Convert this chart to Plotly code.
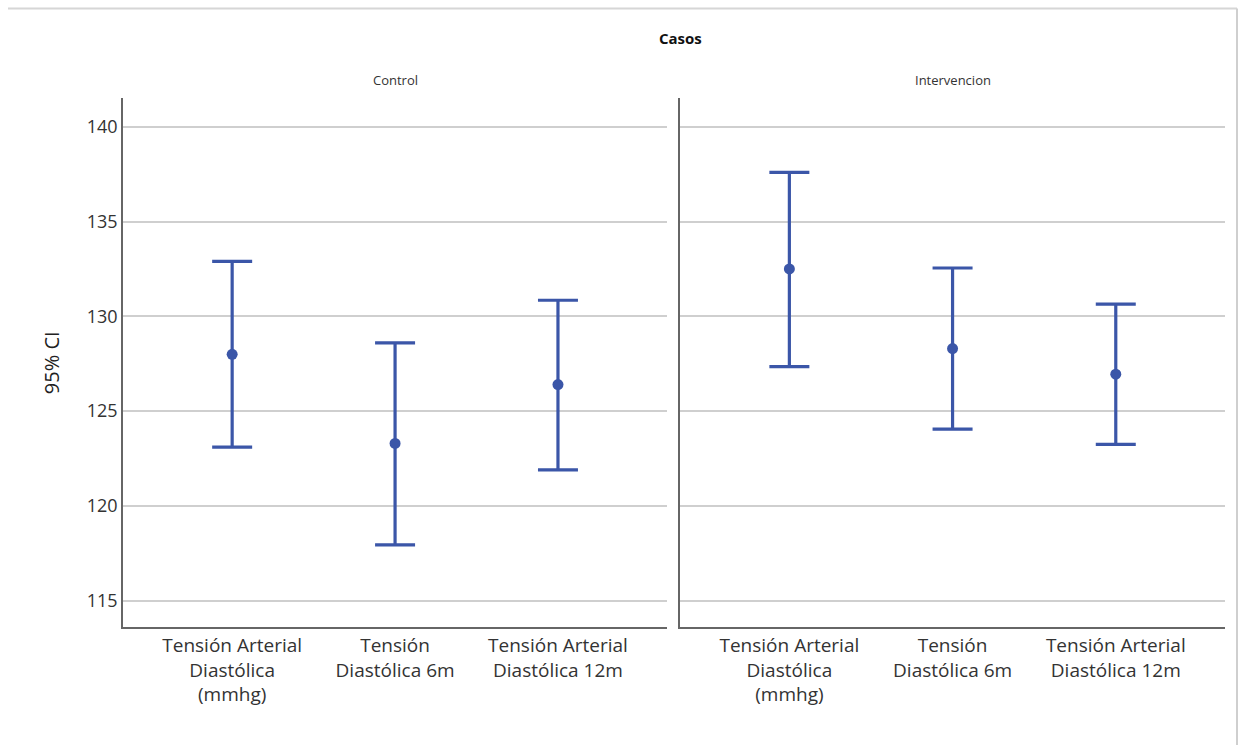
import plotly.graph_objects as go

categories = ["Tensión Arterial<br>Diastólica<br>(mmhg)", "Tensión<br>Diastólica 6m", "Tensión Arterial<br>Diastólica 12m"]
panels = ["Control", "Intervencion"]
control_mean = [128.0, 123.3, 126.4]
control_upper = [132.9, 128.6, 130.85]
control_lower = [123.1, 117.95, 121.9]
interv_mean = [132.5, 128.3, 126.95]
interv_upper = [137.6, 132.55, 130.65]
interv_lower = [127.35, 124.05, 123.25]
y_ticks = [115, 120, 125, 130, 135, 140]

color = "#3B56A8"
fig = go.Figure()
xs = list(range(len(categories)))
for i, (m, up, lo) in enumerate([(control_mean, control_upper, control_lower),
                                  (interv_mean, interv_upper, interv_lower)]):
    fig.add_trace(go.Scatter(
        x=xs, y=m, mode="markers",
        marker=dict(color=color, size=11),
        error_y=dict(type="data", symmetric=False,
                     array=[u - v for u, v in zip(up, m)],
                     arrayminus=[v - l for v, l in zip(m, lo)],
                     color=color, thickness=3.2, width=20),
        xaxis="x" if i == 0 else "x2", yaxis="y" if i == 0 else "y2",
        showlegend=False))

font_family = "Open Sans, Liberation Sans, sans-serif"
xcommon = dict(range=[-0.67, 2.67], tickmode="array", tickvals=xs, ticktext=categories,
               showgrid=False, showline=True, linecolor="#666", linewidth=1.5,
               ticks="", zeroline=False, tickfont=dict(size=19, color="#333", family=font_family),
               fixedrange=True)
ycommon = dict(range=[113.6, 141.5], tickvals=y_ticks, showgrid=True, gridcolor="#cfcfcf",
               gridwidth=2, showline=True, linecolor="#666", linewidth=1.5, ticks="",
               zeroline=False, tickfont=dict(size=18, color="#333", family=font_family))

fig.update_layout(
    width=1240, height=745,
    margin=dict(l=0, r=0, t=0, b=0),
    paper_bgcolor="white", plot_bgcolor="white",
    xaxis=dict(domain=[0.0992, 0.538], anchor="y", **xcommon),
    xaxis2=dict(domain=[0.5484, 0.988], anchor="y2", **xcommon),
    yaxis=dict(domain=[0.158, 0.868], anchor="x",
               title=dict(text="95% CI", font=dict(size=20, color="#222", family=font_family), standoff=22),
               **ycommon),
    yaxis2=dict(domain=[0.158, 0.868], anchor="x2", showticklabels=False, **ycommon),
    annotations=[
        dict(text="<b>Casos</b>", x=0.5484, y=1 - 38 / 745, xref="paper", yref="paper",
             xanchor="center", yanchor="middle",
             showarrow=False, font=dict(size=15, color="#111", family=font_family)),
        dict(text=panels[0], x=(0.0992 + 0.538) / 2, y=1 - 80 / 745, xref="paper", yref="paper",
             xanchor="center", yanchor="middle",
             showarrow=False, font=dict(size=13, color="#333", family=font_family)),
        dict(text=panels[1], x=(0.5484 + 0.988) / 2, y=1 - 80 / 745, xref="paper", yref="paper",
             xanchor="center", yanchor="middle",
             showarrow=False, font=dict(size=13, color="#333", family=font_family)),
    ],
    shapes=[
        dict(type="line", xref="paper", yref="paper", x0=8 / 1240, x1=1237 / 1240,
             y0=1 - 8.5 / 745, y1=1 - 8.5 / 745, line=dict(color="#d6d6d6", width=2), layer="below"),
        dict(type="line", xref="paper", yref="paper", x0=1237 / 1240, x1=1237 / 1240,
             y0=0, y1=1 - 8.5 / 745, line=dict(color="#cfcfcf", width=2), layer="below"),
    ],
)

fig.write_html("out.html", config={"displayModeBar": False},
               post_script="document.body.style.margin='0';document.body.style.overflow='hidden';")
